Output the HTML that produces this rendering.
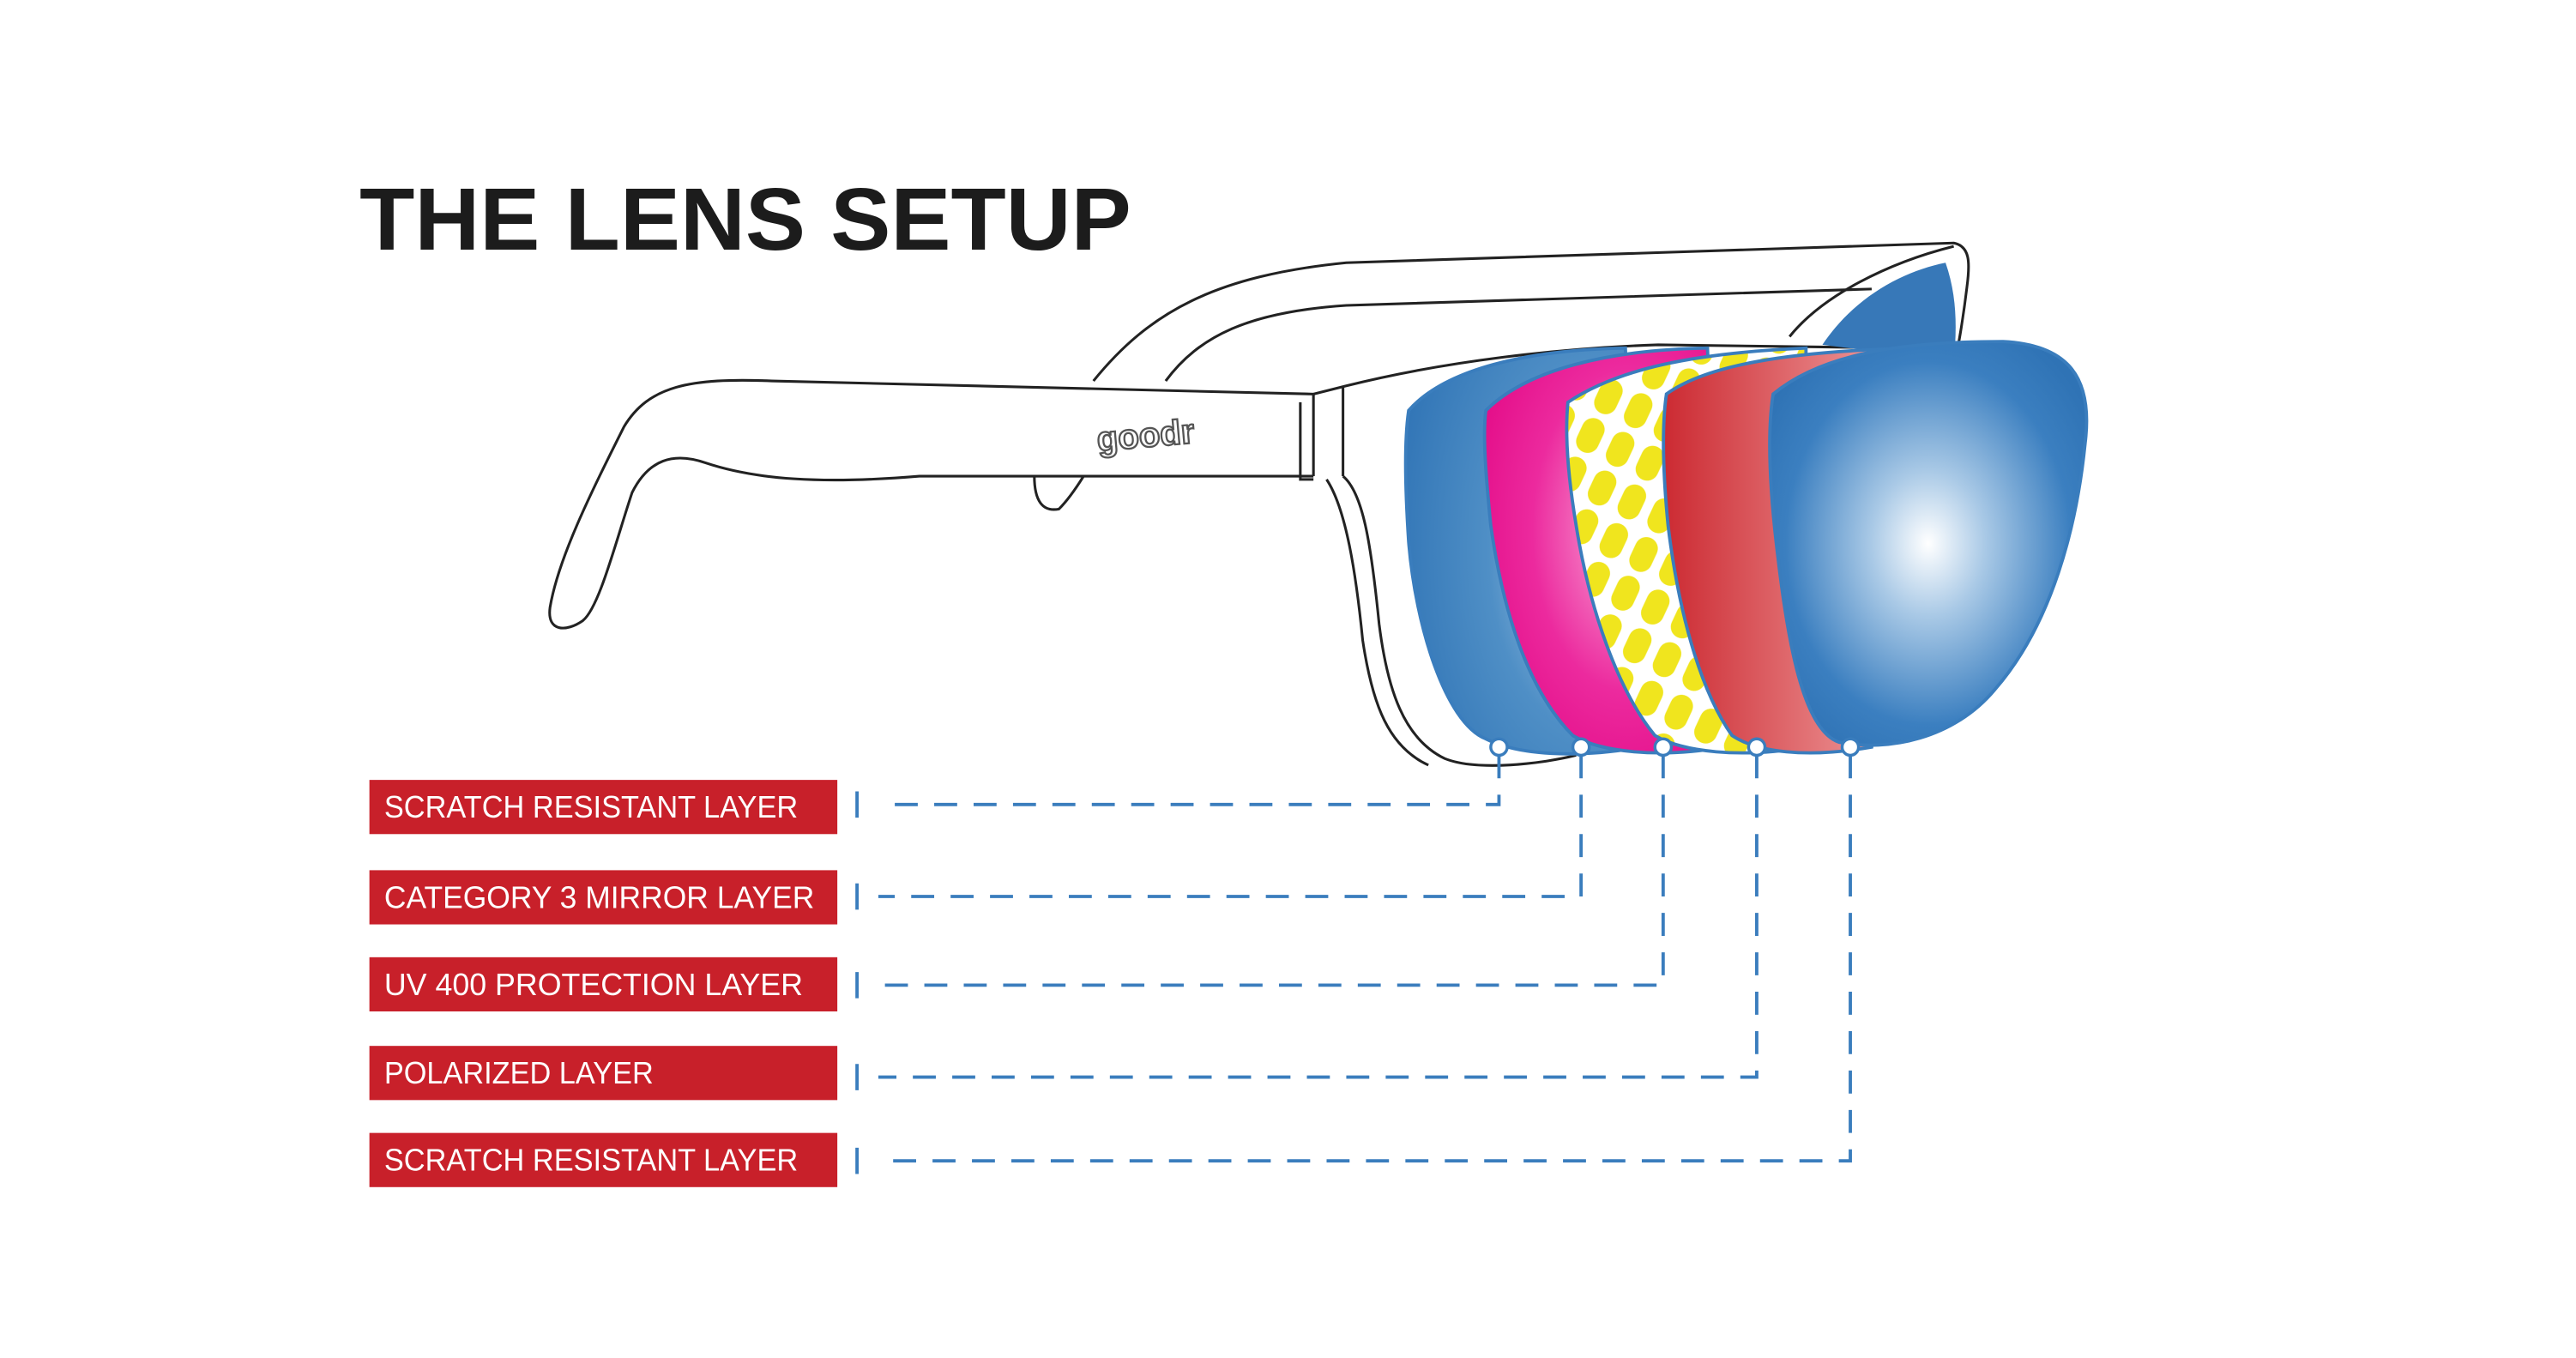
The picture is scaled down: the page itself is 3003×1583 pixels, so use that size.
<!DOCTYPE html>
<html><head><meta charset="utf-8"><style>
html,body{margin:0;padding:0;background:#fff}
svg{display:block}
</style></head><body>
<svg width="3003" height="1583" viewBox="0 0 1569 827" preserveAspectRatio="xMinYMin meet" xmlns="http://www.w3.org/2000/svg">
<defs>
<radialGradient id="bl" cx="0.8" cy="0.5" r="0.9"><stop offset="0" stop-color="#bcd6ec"/><stop offset="0.5" stop-color="#4f8fc6"/><stop offset="1" stop-color="#2f73b5"/></radialGradient>
<radialGradient id="fb" cx="0.5" cy="0.5" r="0.6"><stop offset="0" stop-color="#fff"/><stop offset="0.3" stop-color="#a9c9e6"/><stop offset="0.75" stop-color="#3b7fc0"/><stop offset="1" stop-color="#2f73b5"/></radialGradient>
<radialGradient id="pk" cx="0.6" cy="0.45" r="0.8"><stop offset="0" stop-color="#f9a8d8"/><stop offset="0.5" stop-color="#ec2a9e"/><stop offset="1" stop-color="#e0007f"/></radialGradient>
<linearGradient id="rd" x1="0" x2="1"><stop offset="0" stop-color="#cc2a32"/><stop offset="1" stop-color="#f2a6a6"/></linearGradient>
<pattern id="ye" width="20" height="26" patternUnits="userSpaceOnUse" patternTransform="rotate(25)"><rect width="20" height="26" fill="#fff"/><rect x="3" y="2" width="14" height="22" rx="7" fill="#f0e51e"/></pattern>
</defs>
<text x="219" y="152" font-family="Liberation Sans, sans-serif" font-weight="bold" font-size="54" fill="#1c1c1c" textLength="470" lengthAdjust="spacingAndGlyphs">THE LENS SETUP</text>
<g fill="none" stroke="#222" stroke-width="1.6">
<path d="M666 232 C700 190 740 168 820 160 L1190 148 C1200 150 1200 160 1198 175 C1195 200 1192 215 1190 225"/>
<path d="M710 232 C730 205 760 190 820 186 L1140 176"/>
<path d="M1190 150 C1150 160 1110 180 1090 205"/>
<path d="M800 240 L470 232 C420 230 395 235 380 260 C360 300 340 340 335 370 C333 385 345 385 355 378 C365 370 375 330 385 300 C395 280 410 275 430 282 C460 292 500 295 560 290 L800 290"/>
<path d="M630 290 C630 305 635 312 645 310 C650 305 655 298 660 290"/>
<path d="M800 240 L820 235 C880 220 950 212 1010 210 L1160 212"/>
<path d="M800 240 L800 290 M792 245 L792 292 L800 292 M818 236 L818 290"/>
<path d="M818 290 C830 300 835 330 840 380 C845 420 855 450 880 462 C900 470 940 465 960 460"/>
<path d="M808 292 C820 310 826 350 830 390 C836 430 846 455 870 466"/>
</g>
<text x="668" y="272" font-family="Liberation Sans, sans-serif" font-size="21" font-weight="bold" fill="#fff" stroke="#555" stroke-width="1.2" transform="rotate(-5 700 265)">goodr</text>
<path d="M1110 210 C1130 180 1160 165 1185 160 C1192 180 1192 200 1190 220 Z" fill="#3778b8"/>
<g stroke="#3a7dbd" stroke-width="2">
<path d="M858 250 C880 225 930 213 990 212 L1000 455 C960 462 925 460 905 450 C880 440 862 380 858 330 C856 300 855 270 858 250Z" fill="url(#bl)"/>
<path d="M905 250 C930 225 980 213 1040 212 L1050 455 C1010 462 975 458 958 448 C930 420 915 370 908 320 C905 290 903 265 905 250Z" fill="url(#pk)"/>
<path d="M955 245 C985 225 1030 215 1100 212 L1100 455 C1060 462 1025 458 1008 448 C985 420 968 370 960 320 C955 290 953 265 955 245Z" fill="url(#ye)"/>
<path d="M1015 240 C1040 222 1090 214 1165 212 L1140 455 C1100 462 1070 458 1055 448 C1035 420 1022 370 1016 320 C1013 290 1012 260 1015 240Z" fill="url(#rd)"/>
<path d="M1080 240 C1110 215 1160 208 1220 208 C1260 210 1275 230 1270 270 C1265 320 1250 380 1215 420 C1190 450 1150 458 1120 452 C1100 445 1090 400 1083 340 C1078 300 1076 265 1080 240Z" fill="url(#fb)"/>
</g>
<g fill="#fff" stroke="#3a7dbd" stroke-width="1.8">
<circle cx="913" cy="455" r="5"/><circle cx="963" cy="455" r="5"/><circle cx="1013" cy="455" r="5"/><circle cx="1070" cy="455" r="5"/><circle cx="1127" cy="455" r="5"/>
</g>
<g fill="none" stroke="#3a7dbd" stroke-width="2" stroke-dasharray="14 10">
<path d="M913 460 L913 490 L535 490"/>
<path d="M963 460 L963 546 L535 546"/>
<path d="M1013 460 L1013 600 L535 600"/>
<path d="M1070 460 L1070 656 L535 656"/>
<path d="M1127 460 L1127 707 L535 707"/>
</g>
<g stroke="#3a7dbd" stroke-width="2">
<path d="M522 482 V498 M522 538 V554 M522 592 V608 M522 648 V664 M522 699 V715"/>
</g>
<g fill="#c8202a">
<rect x="225" y="475" width="285" height="33"/><rect x="225" y="530" width="285" height="33"/><rect x="225" y="583" width="285" height="33"/><rect x="225" y="637" width="285" height="33"/><rect x="225" y="690" width="285" height="33"/>
</g>
<g fill="#fff" font-family="Liberation Sans, sans-serif" font-size="19">
<text x="234" y="498" textLength="252" lengthAdjust="spacingAndGlyphs">SCRATCH RESISTANT LAYER</text>
<text x="234" y="553" textLength="262" lengthAdjust="spacingAndGlyphs">CATEGORY 3 MIRROR LAYER</text>
<text x="234" y="606" textLength="255" lengthAdjust="spacingAndGlyphs">UV 400 PROTECTION LAYER</text>
<text x="234" y="660" textLength="164" lengthAdjust="spacingAndGlyphs">POLARIZED LAYER</text>
<text x="234" y="713" textLength="252" lengthAdjust="spacingAndGlyphs">SCRATCH RESISTANT LAYER</text>
</g>
</svg>
</body></html>
